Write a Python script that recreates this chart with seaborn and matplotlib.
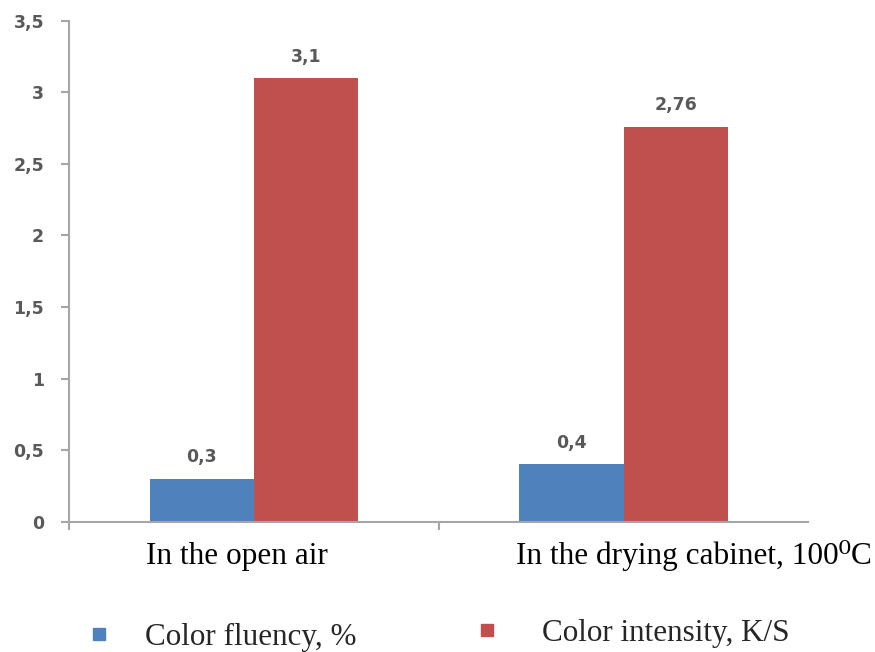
import matplotlib
matplotlib.use("Agg")
import matplotlib.pyplot as plt
from matplotlib.lines import Line2D
from matplotlib.transforms import ScaledTranslation
import seaborn as sns
import pandas as pd

conditions = ["In the open air", "In the drying cabinet, 100\u2070C"]
series = ["Color fluency, %", "Color intensity, K/S"]
fluency = [0.3, 0.4]
intensity = [3.1, 2.76]
colors = ["#4F81BD", "#C0504D"]
yticks = [0, 0.5, 1, 1.5, 2, 2.5, 3, 3.5]

df = pd.DataFrame({
    "condition": conditions * 2,
    "series": [series[0]] * 2 + [series[1]] * 2,
    "value": fluency + intensity,
})

sns.set_theme(style="white")
serif = ["Liberation Serif", "DejaVu Serif", "DejaVu Sans"]
axis_grey = "#A6A6A6"
label_grey = "#595959"

fig = plt.figure(figsize=(8.75, 6.52), dpi=100)
ax = fig.add_axes([0.079, 0.2, 0.845, 0.768])

sns.barplot(data=df, x="condition", y="value", hue="series", palette=colors,
            width=0.565, saturation=1, ax=ax, legend=False, edgecolor="none")

ax.set_ylim(0, 3.5)
ax.set_xlim(-0.5, 1.5)
ax.set_yticks(yticks)
ax.set_yticklabels([f"{t:g}".replace(".", ",") for t in yticks],
                   fontsize=12.5, fontweight="bold", color=label_grey)
ax.set_xticks([-0.5, 0.5], minor=True)
ax.set_xticks([0, 1])
ax.set_xticklabels(conditions, fontsize=22.5, family=serif, color="black")
ax.tick_params(axis="x", which="major", length=0, pad=15)
ax.tick_params(axis="x", which="minor", length=6, width=1.5, color=axis_grey,
               direction="out", bottom=True)
ax.tick_params(axis="y", length=6, width=1.5, color=axis_grey, left=True,
               direction="out", pad=12)
ax.set_xlabel("")
ax.set_ylabel("")
for s in ["top", "right"]:
    ax.spines[s].set_visible(False)
for s in ["left", "bottom"]:
    ax.spines[s].set_color(axis_grey)
    ax.spines[s].set_linewidth(1.5)

# category captions sit a little off their group centres
for lbl, (dx, dy) in zip(ax.get_xticklabels(), [(-17, 0), (70, 2)]):
    lbl.set_transform(lbl.get_transform()
                      + ScaledTranslation(dx / 100, dy / 100, fig.dpi_scale_trans))

for cont in ax.containers:
    labels = [f"{b.get_height():g}".replace(".", ",") for b in cont]
    ax.bar_label(cont, labels=labels, padding=9, fontsize=12.5,
                 fontweight="bold", color=label_grey)

# one legend entry per series, each placed on its own
entries = [(83.0, 637, 1.0), (471.0, 633, 1.27)]
for name, c, (x0, yc, pad) in zip(series, colors, entries):
    h = Line2D([], [], marker="s", linestyle="none", markersize=9,
               markerfacecolor=c, markeredgecolor=c)
    leg = fig.legend([h], [name], loc="center left",
                     bbox_to_anchor=(x0 / 875, 1 - yc / 652),
                     frameon=False, prop={"family": serif, "size": 22.4},
                     handlelength=1.0, handletextpad=pad,
                     borderpad=0, borderaxespad=0)

fig.savefig("out.png", dpi=100)
